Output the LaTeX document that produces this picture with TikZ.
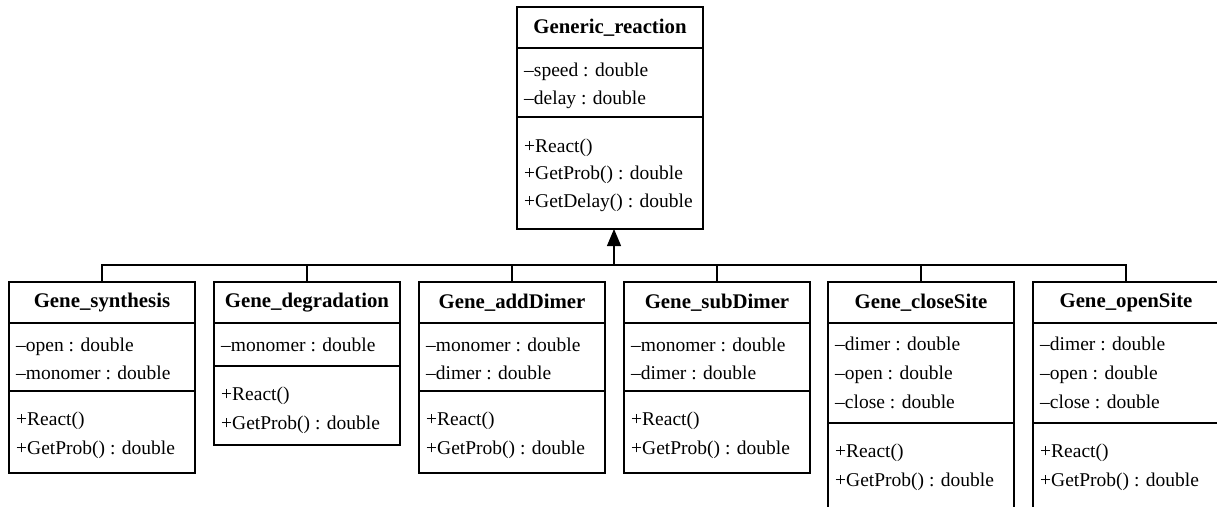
\documentclass[tikz,border=0pt]{standalone}
\usepackage{fontspec}
\setmainfont{Liberation Serif}
\usetikzlibrary{arrows.meta}
\tikzset{
  classbox/.style={draw, line width=1.2pt, anchor=north west, minimum width=186pt, inner sep=0pt, outer sep=0pt},
  titletext/.style={font=\fontsize{20.8}{24}\selectfont\bfseries, inner sep=0pt},
  rowtext/.style={font=\fontsize{19.5}{22}\selectfont, anchor=base west, inner sep=0pt},
  sepline/.style={line width=1.2pt},
  link/.style={line width=1.2pt},
}
% #1 name, #2 x left, #3 y top, #4 sep1, #5 sep2, #6 bottom, #7 title, #8 attrs, #9 methods
\newcommand\umlclass[9]{%
  \node[classbox, minimum height={#6-#3}] (#1) at (#2,#3) {};
  \draw[sepline] (#2,#4) -- ++(186,0);
  \draw[sepline] (#2,#5) -- ++(186,0);
  \node[titletext] (#1-title) at ({#2+93},{(#3+#4)/2}) {#7};
  \foreach \yy/\tt in {#8} {\node[rowtext] at ({#2+7},{\yy+5.5}) {\tt};}
  \foreach \yy/\tt in {#9} {\node[rowtext] at ({#2+7},{\yy+5.5}) {\tt};}
}
\begin{document}
\begin{tikzpicture}[x=1pt,y=-1pt]
\useasboundingbox (0,0) rectangle (1217,506);
\clip (0,0) rectangle (1217,506);
\umlclass{gen}{517}{7}{48}{117}{229}{Generic\_reaction}
  {70.7/{–speed : double},99/{–delay : double}}
  {146.7/{+React()},174.3/{+GetProb() : double},202/{+GetDelay() : double}}
\umlclass{syn}{9}{282}{323}{391}{473}{Gene\_synthesis}
  {345.5/{–open : double},374/{–monomer : double}}
  {420/{+React()},449/{+GetProb() : double}}
\umlclass{deg}{214}{282}{323}{366}{445}{Gene\_degradation}
  {345.5/{–monomer : double}}
  {395/{+React()},423.5/{+GetProb() : double}}
\umlclass{add}{419}{282}{323}{391}{473}{Gene\_addDimer}
  {345.5/{–monomer : double},374/{–dimer : double}}
  {420/{+React()},449/{+GetProb() : double}}
\umlclass{sub}{624}{282}{323}{391}{473}{Gene\_subDimer}
  {345.5/{–monomer : double},374/{–dimer : double}}
  {420/{+React()},449/{+GetProb() : double}}
\umlclass{close}{828}{282}{323}{423}{515}{Gene\_closeSite}
  {345/{–dimer : double},374/{–open : double},403/{–close : double}}
  {452/{+React()},481/{+GetProb() : double}}
\umlclass{open}{1033}{282}{323}{423}{515}{Gene\_openSite}
  {345/{–dimer : double},374/{–open : double},403/{–close : double}}
  {452/{+React()},481/{+GetProb() : double}}
% inheritance tree
\coordinate (busmid) at (614,265);
\draw[link] (syn.north) -- (syn.north |- busmid) -| (open.north);
\foreach \n in {deg,add,sub,close} {\draw[link] (\n.north) -- (\n.north |- busmid);}
\draw[link, -{Triangle[width=14pt,length=17pt]}] (busmid) -- (busmid |- gen.south);
\end{tikzpicture}
\end{document}
